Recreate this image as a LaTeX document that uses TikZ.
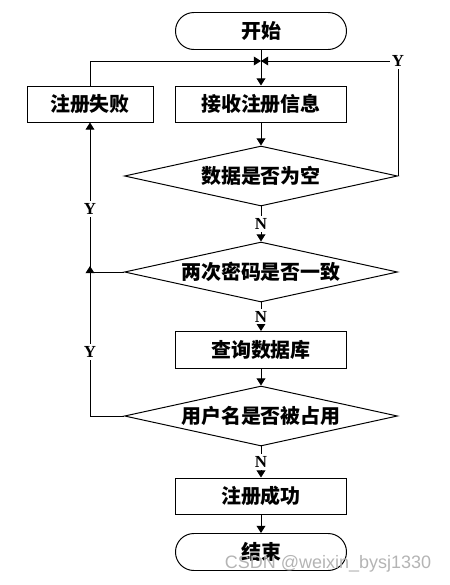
\documentclass[tikz,border=0pt]{standalone}
\usepackage{fontspec}
\newfontfamily\cjkfont{Noto Sans CJK SC}
\newfontfamily\latinfont{Liberation Serif}
\newfontfamily\markfont{Liberation Sans}
\usetikzlibrary{arrows.meta, positioning, calc, shapes.geometric}
\definecolor{MarkGray}{HTML}{B4B4B4}
\tikzset{
  terminal/.style={draw, line width=0.7pt, rounded corners=0.46cm, minimum width=4.275cm, minimum height=0.925cm, inner sep=2pt, font=\cjkfont\bfseries\fontsize{14.2}{16}\selectfont},
  procbox/.style={draw, line width=0.7pt, minimum width=4.275cm, minimum height=0.9cm, inner sep=2pt, font=\cjkfont\bfseries\fontsize{14.2}{16}\selectfont},
  decision/.style={draw, line width=0.7pt, diamond, aspect=4.55, inner sep=0pt, minimum width=6.825cm, minimum height=1.5cm, font=\cjkfont\bfseries\fontsize{14.2}{16}\selectfont},
  yn/.style={fill=white, inner sep=1.5pt, font=\latinfont\bfseries\fontsize{12}{13}\selectfont},
  arrow/.style={-{Triangle[length=1.8mm, width=2.2mm]}, line width=0.7pt},
  plain/.style={line width=0.7pt}
}
\begin{document}
\begin{tikzpicture}
\useasboundingbox (0,0) rectangle (11.25,-14.625);
\node[terminal] (start) at (6.525,-0.775) {开始};
\coordinate (merge) at (6.525,-1.525);
\node[procbox] (recv) at (6.525,-2.6) {接收注册信息};
\node[procbox, minimum width=3.15cm] (fail) at (2.25,-2.6) {注册失败};
\node[decision] (empty) at (6.525,-4.4) {数据是否为空};
\node[decision] (same) at (6.525,-6.8) {两次密码是否一致};
\node[procbox, minimum height=0.925cm] (query) at (6.525,-8.75) {查询数据库};
\node[decision] (taken) at (6.525,-10.4) {用户名是否被占用};
\node[procbox] (ok) at (6.525,-12.4) {注册成功};
\node[terminal] (stop) at (6.525,-13.8) {结束};
% main column
\draw[arrow] (start) -- (recv);
\draw[arrow] (recv) -- (empty);
\draw[arrow] (empty) -- node[yn] {N} (same);
\draw[arrow] (same) -- node[yn] {N} (query);
\draw[arrow] (query) -- (taken);
\draw[arrow] (taken) -- node[yn] {N} (ok);
\draw[arrow] (ok) -- (stop);
% loops back
\draw[arrow] (fail.north) |- (merge);
\draw[arrow] (empty.east) -- (empty.east |- merge) node[yn] {Y} -- (merge);
\draw[arrow] (taken.west) -| (fail.south);
\draw[arrow] (same.west) -- (same.west -| fail) -- ++(0,0.15);
\node[yn] (y1) at (2.25,-5.225) {Y};
\node[yn] (y2) at (2.25,-8.8) {Y};
% watermark
\node[text=MarkGray, font=\markfont\fontsize{12.8}{14}\selectfont, inner sep=0pt] (mark) at (8.2,-14.1) {CSDN @weixin\_bysj1330};
\end{tikzpicture}
\end{document}
